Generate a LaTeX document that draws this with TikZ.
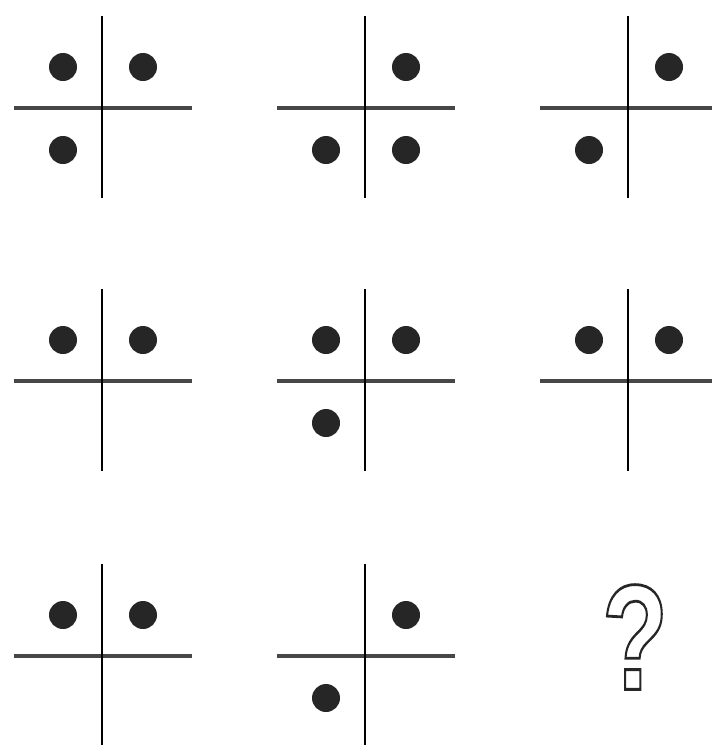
\documentclass[tikz,border=0pt]{standalone}
\usepackage{fontspec}
\setmainfont{Liberation Sans}
\usepackage{graphicx}

\newcommand{\hollowtext}[1]{\special{pdf:literal direct q 1 Tr 2.8 w 0.15 G}#1\special{pdf:literal direct Q}}

\begin{document}
\begin{tikzpicture}[
  x=1pt, y=-1pt,
  vline/.style={line width=2pt, black},
  hline/.style={line width=3.2pt, black!72},
  spot/.style={circle, fill=black!85, inner sep=0pt, minimum size=28pt},
  quiz/.style={inner sep=0pt, font=\fontsize{150}{150}\selectfont\bfseries}
]
  \useasboundingbox (0,0) rectangle (712,745);

  % one cross per cell, dots named after their quadrant
  \foreach \n/\cx/\cy/\qs in {1/102/108/{a,b,c}, 2/365/108/{b,c,d}, 3/628/108/{b,c},
                              4/102/381/{a,b},   5/365/381/{a,b,c}, 6/628/381/{a,b},
                              7/102/656/{a,b},   8/365/656/{b,c}} {
    \coordinate (c\n) at (\cx,\cy);
    \coordinate (c\n-a) at ([shift={(-39,-41)}]c\n);
    \coordinate (c\n-b) at ([shift={(41,-41)}]c\n);
    \coordinate (c\n-c) at ([shift={(-39,42)}]c\n);
    \coordinate (c\n-d) at ([shift={(41,42)}]c\n);
    \draw[hline] ([xshift=-88pt]c\n) -- ([xshift=90pt]c\n);
    \draw[vline] ([yshift=92pt]c\n) -- ([yshift=-90pt]c\n);
    \foreach \q in \qs
      \node[spot] (d\n\q) at (c\n-\q) {};
  }

  \node[quiz] (mark) at (635,637) {\scalebox{0.72}[1]{\hollowtext{?}}};
\end{tikzpicture}
\end{document}
